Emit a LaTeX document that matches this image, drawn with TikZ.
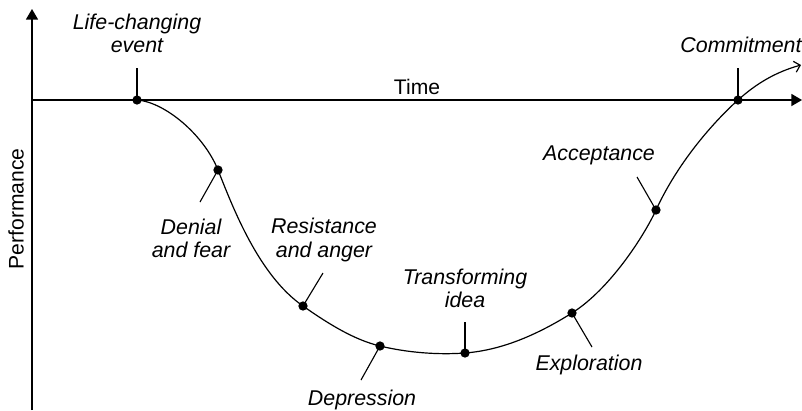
\documentclass[tikz,border=0pt]{standalone}
\usepackage{fontspec}
\setmainfont{Liberation Sans}
\usetikzlibrary{arrows.meta}
\begin{document}
\begin{tikzpicture}[x=0.025cm,y=-0.025cm,
  axis/.style={line width=1pt,-{Triangle[length=7.5pt,width=8.5pt]}},
  curve/.style={line width=0.85pt},
  stage/.style={circle,fill=black,inner sep=0pt,minimum size=6.6pt},
  tickline/.style={line width=0.8pt},
  lbl/.style={font=\fontsize{15.2}{16.5}\selectfont\itshape,align=center,inner sep=0pt},
  axlbl/.style={font=\fontsize{15}{16.5}\selectfont,inner sep=0pt}]
\useasboundingbox (0,0) rectangle (802,410);

% axes
\coordinate (origin) at (32,100);
\coordinate (ybottom) at (32,410);
\coordinate (ytop) at (32,9);
\coordinate (xend) at (802,100);
\draw[axis] (ybottom) -- (ytop);
\draw[axis] (origin) -- (xend);
\node[axlbl] (time) at (417,87) {Time};
\node[axlbl,rotate=90] (perf) at (16,209) {Performance};

% stages on the curve
\node[stage] (life) at (137,100) {};
\node[stage] (denial) at (218,170) {};
\node[stage] (resist) at (303,306) {};
\node[stage] (depr) at (380,346) {};
\node[stage] (trans) at (465,353) {};
\node[stage] (explo) at (572,313) {};
\node[stage] (accept) at (656,210) {};
\node[stage] (commit) at (738,100) {};
\coordinate (tip) at (801,65);

% the change curve
\draw[curve,-{Straight Barb[length=4pt,width=8pt]}] (life.center)
  .. controls (165,102) and (204,135) .. (denial.center)
  .. controls (232,205) and (258,275) .. (resist.center)
  .. controls (330,325) and (355,340) .. (depr.center)
  .. controls (407,352.5) and (437,355) .. (trans.center)
  .. controls (504,350) and (540,333) .. (explo.center)
  .. controls (610,289) and (644,236) .. (accept.center)
  .. controls (680,158) and (718,118) .. (commit.center)
  .. controls (757,83) and (776,72) .. (tip);

% label ticks
\coordinate (lifeT) at (137,68);
\coordinate (denialT) at (200,202);
\coordinate (resistT) at (323,273);
\coordinate (deprT) at (361,380);
\coordinate (transT) at (465,322);
\coordinate (exploT) at (592,347);
\coordinate (acceptT) at (637,177);
\coordinate (commitT) at (738,68);
\foreach \s in {life,denial,resist,depr,trans,explo,accept,commit}
  \draw[tickline] (\s.center) -- (\s T);

% labels
\node[lbl] (lifeL) at (137,33) {Life-changing\\event};
\node[lbl] (denialL) at (191,238) {Denial\\and fear};
\node[lbl] (resistL) at (324,240) {Resistance\\and anger};
\node[lbl] (deprL) at (362,400) {Depression};
\node[lbl] (transL) at (465,288) {Transforming\\idea};
\node[lbl] (exploL) at (589,365) {Exploration};
\node[lbl] (acceptL) at (599,155) {Acceptance};
\node[lbl] (commitL) at (741,45) {Commitment};
\end{tikzpicture}
\end{document}
